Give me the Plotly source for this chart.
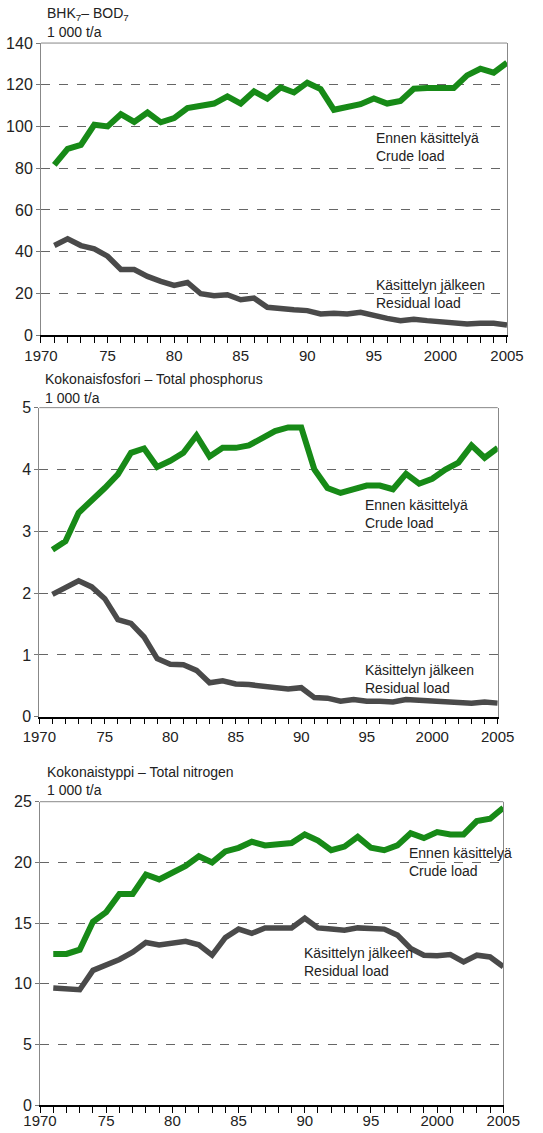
import plotly.graph_objects as go

years = list(range(1971, 2006))

# BHK7 - BOD7, 1 000 t/a
bod_crude = [81.6, 89.3, 91.2, 100.8, 100.0, 105.9, 102.2, 106.7, 102.0, 104.0,
             108.8, 110.0, 111.0, 114.4, 111.0, 116.8, 113.4, 118.7, 116.3, 121.0,
             117.9, 108.0, 109.6, 110.7, 113.4, 111.0, 112.2, 118.1, 118.4, 118.6,
             118.4, 124.5, 127.7, 125.8, 130.6]
bod_resid = [42.9, 46.1, 42.9, 41.3, 37.8, 31.4, 31.4, 28.1, 25.7, 23.8,
             25.2, 19.8, 18.8, 19.3, 16.9, 17.7, 13.3, 12.4, 12.1, 11.7,
             10.1, 10.5, 10.1, 10.9, 9.2, 8.0, 6.9, 7.6, 6.9, 6.4,
             5.6, 5.3, 5.6, 5.6, 4.8]

# Total phosphorus, 1 000 t/a
p_crude = [2.70, 2.84, 3.30, 3.49, 3.70, 3.92, 4.27, 4.34, 4.04, 4.14,
           4.27, 4.55, 4.21, 4.35, 4.35, 4.39, 4.50, 4.62, 4.68, 4.68,
           4.00, 3.70, 3.62, 3.68, 3.74, 3.74, 3.68, 3.93, 3.77, 3.85,
           4.00, 4.11, 4.39, 4.19, 4.35]
p_resid = [1.98, 2.08, 2.20, 2.10, 1.91, 1.57, 1.51, 1.29, 0.94, 0.85,
           0.84, 0.75, 0.55, 0.58, 0.53, 0.52, 0.49, 0.47, 0.45, 0.47,
           0.31, 0.30, 0.25, 0.28, 0.25, 0.25, 0.24, 0.28, 0.27, 0.26,
           0.24, 0.22, 0.22, 0.24, 0.22]

# Total nitrogen, 1 000 t/a
n_crude = [12.45, 12.45, 12.8, 15.1, 15.9, 17.4, 17.4, 19.0, 18.6, 19.1,
           19.7, 20.5, 20.0, 20.9, 21.2, 21.7, 21.4, 21.5, 21.6, 22.3,
           21.8, 21.0, 21.3, 22.1, 21.2, 21.0, 21.4, 22.4, 22.0, 22.5,
           22.3, 22.3, 23.4, 23.6, 24.5]
n_resid = [9.65, 9.57, 9.5, 11.1, 11.5, 12.0, 12.6, 13.4, 13.2, 13.35,
           13.5, 13.2, 12.35, 13.8, 14.5, 14.15, 14.6, 14.6, 14.6, 15.4,
           14.6, 14.5, 14.4, 14.6, 14.6, 14.5, 14.0, 12.9, 12.35, 12.3,
           12.4, 11.8, 12.35, 12.2, 11.4]

x_tickvals = [1970, 1975, 1980, 1985, 1990, 1995, 2000, 2005]
x_ticktext = ["1970", "75", "80", "85", "90", "95", "2000", "2005"]

titles = ["BHK<sub>7</sub>– BOD<sub>7</sub>",
          "Kokonaisfosfori – Total phosphorus",
          "Kokonaistyppi – Total nitrogen"]
unit = "1 000 t/a"

GREEN = "#178a17"
GREY = "#4a4a4a"
FONT = "Liberation Sans, Arial, sans-serif"

panels = [
    dict(crude=bod_crude, resid=bod_resid, yr=[0, 140], dtick=20,
         xdom=[0.0755, 0.9337], ydom=[0.7043, 0.9620],
         ttl=(0.0829, 0.9880, 0.9718), standoff=0,
         crude_lbl=(1995.0, 90), resid_lbl=(1995.0, 19.5)),
    dict(crude=p_crude, resid=p_resid, yr=[0, 5], dtick=1,
         xdom=[0.0724, 0.9166], ydom=[0.3674, 0.6402],
         ttl=(0.0790, 0.6655, 0.6487), standoff=0,
         crude_lbl=(1994.7, 3.28), resid_lbl=(1994.7, 0.61)),
    dict(crude=n_crude, resid=n_resid, yr=[0, 25], dtick=5,
         xdom=[0.0737, 0.9269], ydom=[0.0247, 0.2924],
         ttl=(0.0829, 0.3189, 0.3027), standoff=-5,
         crude_lbl=(1997.7, 20.0), resid_lbl=(1989.8, 11.8)),
]

fig = go.Figure()
annotations = []
shapes = []

for i, p in enumerate(panels):
    n = "" if i == 0 else str(i + 1)
    xa, ya = "x" + n, "y" + n
    fig.add_trace(go.Scatter(x=years, y=p["resid"], mode="lines", xaxis=xa, yaxis=ya,
                             line=dict(color=GREY, width=5.5), showlegend=False))
    fig.add_trace(go.Scatter(x=years, y=p["crude"], mode="lines", xaxis=xa, yaxis=ya,
                             line=dict(color=GREEN, width=6), showlegend=False))

    fig.layout["xaxis" + n] = dict(
        domain=p["xdom"], anchor=ya, range=[1970, 2005], automargin=False,
        tickvals=x_tickvals, ticktext=x_ticktext, ticklabelstandoff=p["standoff"],
        ticks="outside", ticklen=6, tickcolor="black", tickwidth=1,
        minor=dict(dtick=1, tick0=1970, ticks="outside", ticklen=6, tickcolor="black"),
        showline=True, linecolor="black", linewidth=1.5,
        showgrid=False, zeroline=False, fixedrange=True,
        tickfont=dict(size=15, color="#222"))
    fig.layout["yaxis" + n] = dict(
        domain=p["ydom"], anchor=xa, range=p["yr"], dtick=p["dtick"], automargin=False,
        ticks="outside", ticklen=4, tickcolor="#777",
        showline=True, mirror=True, linecolor="#888", linewidth=1,
        showgrid=True, gridcolor="#666", griddash="dash", gridwidth=1,
        zeroline=False, fixedrange=True,
        tickfont=dict(size=16, color="#222"))

    # top frame line
    shapes.append(dict(type="line", xref=xa + " domain", yref=ya + " domain",
                       x0=0, x1=1, y0=1, y1=1, line=dict(color="#888", width=1)))

    tx, ty1, ty2 = p["ttl"]
    annotations.append(dict(text=titles[i], xref="paper", yref="paper", x=tx, y=ty1,
                            xanchor="left", yanchor="middle", showarrow=False,
                            font=dict(size=14, color="#222")))
    annotations.append(dict(text=unit, xref="paper", yref="paper", x=tx, y=ty2,
                            xanchor="left", yanchor="middle", showarrow=False,
                            font=dict(size=14, color="#222")))

    cx, cy = p["crude_lbl"]
    annotations.append(dict(text="Ennen käsittelyä<br>Crude load", xref=xa, yref=ya,
                            x=cx, y=cy, xanchor="left", yanchor="middle", align="left",
                            showarrow=False, font=dict(size=14, color="#222")))
    rx, ry = p["resid_lbl"]
    annotations.append(dict(text="Käsittelyn jälkeen<br>Residual load", xref=xa, yref=ya,
                            x=rx, y=ry, xanchor="left", yanchor="middle", align="left",
                            showarrow=False, font=dict(size=14, color="#222")))

fig.update_layout(
    width=543, height=1133,
    margin=dict(l=0, r=0, t=0, b=0, autoexpand=False),
    paper_bgcolor="white", plot_bgcolor="white",
    font=dict(family=FONT, color="#222"),
    annotations=annotations, shapes=shapes,
)

# drop the default 8 px body margin so the figure fills the window
fig.write_html("out.html", config={"displayModeBar": False},
               post_script="document.body.style.margin = '0';")
